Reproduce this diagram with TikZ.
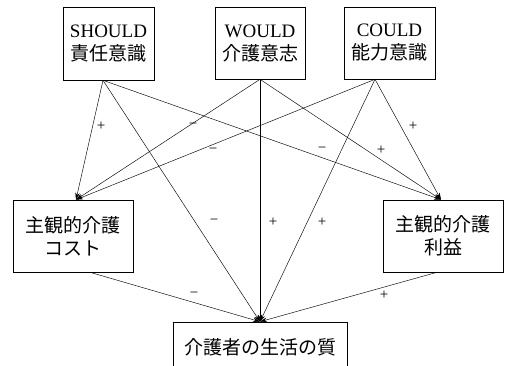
\documentclass[tikz,border=0pt]{standalone}
\usepackage{fontspec}
\setmainfont{Liberation Serif}
\newfontfamily\jp{Noto Sans CJK JP}
\usetikzlibrary{arrows.meta,calc}
\begin{document}
\begin{tikzpicture}[x=1pt,y=-1pt,
  box/.style={draw, line width=0.6pt, inner sep=0pt, align=center,
    font=\fontsize{19}{23}\selectfont},
  conn/.style={line width=0.45pt, -{Stealth[length=7pt,width=4.5pt]}},
  sgn/.style={inner sep=0pt, font=\fontsize{15}{15}\selectfont}]
\useasboundingbox (0,0) rectangle (509,366);
\node[box, minimum width=91pt, minimum height=73pt] (should) at (108.5,43.5) {SHOULD\\{\jp 責任意識}};
\node[box, minimum width=90pt, minimum height=72pt] (would) at (260,43) {WOULD\\{\jp 介護意志}};
\node[box, minimum width=91pt, minimum height=72pt] (could) at (389.5,43) {COULD\\{\jp 能力意識}};
\node[box, minimum width=120pt, minimum height=72pt] (cost) at (73,236) {{\jp 主観的介護}\\{\jp コスト}};
\node[box, minimum width=120pt, minimum height=72pt] (benefit) at (443,236) {{\jp 主観的介護}\\{\jp 利益}};
\node[box, minimum width=174pt, minimum height=50pt] (quality) at (260,347) {{\jp 介護者の生活の質}};
\coordinate (sS) at ($(should.south)+(-5.5,0)$);
\coordinate (wS) at (would.south);
\coordinate (cS) at ($(could.south)+(-14.5,0)$);
\coordinate (costN) at ($(cost.north)+(3,0)$);
\coordinate (benN) at ($(benefit.north)+(-2,0)$);
\coordinate (qN) at (quality.north);
\coordinate (costS) at ($(cost.south)+(17,0)$);
\coordinate (benS) at ($(benefit.south)+(-6,0)$);
\draw[conn] (sS) -- (costN);
\draw[conn] (sS) -- (qN);
\draw[conn] (sS) -- (benN);
\draw[conn] (wS) -- (costN);
\draw[conn] (wS) -- (qN);
\draw[conn] (wS) -- (benN);
\draw[conn] (cS) -- (costN);
\draw[conn] (cS) -- (qN);
\draw[conn] (cS) -- (benN);
\draw[conn] (costS) -- (qN);
\draw[conn] (benS) -- (qN);
\node[sgn] (l1) at (101,126) {+};
\node[sgn] (l2) at (193,126) {−};
\node[sgn] (l3) at (213,151) {−};
\node[sgn] (l4) at (322,150) {−};
\node[sgn] (l5) at (381,150) {+};
\node[sgn] (l6) at (413,126) {+};
\node[sgn] (l7) at (214,222) {−};
\node[sgn] (l8) at (273,222) {+};
\node[sgn] (l9) at (322,222) {+};
\node[sgn] (l10) at (194,295) {−};
\node[sgn] (l11) at (384,295) {+};
\end{tikzpicture}
\end{document}
